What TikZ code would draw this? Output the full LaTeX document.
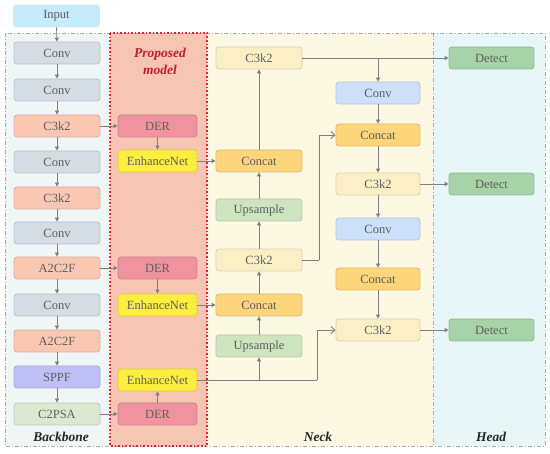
\documentclass[tikz,border=0pt]{standalone}
\usepackage{fontspec}
\setmainfont{Liberation Serif}
\usetikzlibrary{arrows.meta}
\definecolor{txtgray}{HTML}{5F5F5F}
\definecolor{lngray}{HTML}{7F7F7F}
\definecolor{bbfill}{HTML}{F0F5F6}
\definecolor{propfill}{HTML}{F6C5B3}
\definecolor{neckfill}{HTML}{FDF8E3}
\definecolor{headfill}{HTML}{E7F7F8}
\definecolor{cInput}{HTML}{C6EBFA}
\definecolor{cConv}{HTML}{D5DDE4}
\definecolor{cSalmon}{HTML}{FAC7B2}
\definecolor{cSPPF}{HTML}{BFC0F7}
\definecolor{cPSA}{HTML}{DCE8CF}
\definecolor{cDER}{HTML}{EF949F}
\definecolor{cEnh}{HTML}{FCEE3E}
\definecolor{cC3}{HTML}{FBF0C5}
\definecolor{cCat}{HTML}{FDD57A}
\definecolor{cUp}{HTML}{CDE5C0}
\definecolor{cNConv}{HTML}{CCE0FA}
\definecolor{cDet}{HTML}{A6D3A7}
\definecolor{redline}{HTML}{E8213A}
\definecolor{frame}{HTML}{A8A8A8}
\tikzset{
  blk/.style={rounded corners=3pt, minimum height=22pt, inner sep=0pt,
    font=\fontsize{12.5}{14}\selectfont, text=txtgray, line width=0.8pt},
  bx/.style={blk, fill=#1, draw=#1!88!black},
  bbw/.style={minimum width=86pt},
  prw/.style={minimum width=79pt},
  nkw/.style={minimum width=86pt},
  n2w/.style={minimum width=84pt},
  dtw/.style={minimum width=85pt},
  conn/.style={draw=lngray, line width=0.9pt, -{Triangle[length=4pt,width=4pt]}},
  openconn/.style={draw=lngray, line width=0.9pt, -{Straight Barb[length=4pt,width=7pt]}},
  plain/.style={draw=lngray, line width=0.9pt},
  lbl/.style={font=\fontsize{13.5}{15}\selectfont\bfseries\itshape, text=black!85},
  framedash/.style={draw=frame, line width=0.8pt, dash pattern=on 4pt off 2pt on 1pt off 2pt}
}
\begin{document}
\begin{tikzpicture}[x=1pt,y=-1pt]
\useasboundingbox (0,0) rectangle (550,454);
% panels
\fill[bbfill] (5,33) rectangle (110,446);
\fill[propfill] (110,33) rectangle (207,446);
\fill[neckfill] (207,33) rectangle (433,446);
\fill[headfill] (433,33) rectangle (545,446);
\draw[framedash] (5,33) rectangle (545,446);
\draw[framedash] (433,33) -- (433,446);
\draw[redline, line width=1.6pt, dotted] (110,33) rectangle (207,446);
% labels
\node[lbl] (lbb) at (61,437) {Backbone};
\node[lbl] (lnk) at (318,437) {Neck};
\node[lbl] (lhd) at (491,437) {Head};
\node[align=center, font=\fontsize{13.5}{17}\selectfont\bfseries\itshape, text=redline!85!black] (lprop) at (160,61) {Proposed\\model};
% backbone
\node[blk, fill=cInput, draw=cInput, bbw] (inp) at (56.5,16) {Input};
\node[bx=cConv, bbw] (b1) at (57,53) {Conv};
\node[bx=cConv, bbw] (b2) at (57,90) {Conv};
\node[bx=cSalmon, bbw] (b3) at (57,126) {C3k2};
\node[bx=cConv, bbw] (b4) at (57,162) {Conv};
\node[bx=cSalmon, bbw] (b5) at (57,198) {C3k2};
\node[bx=cConv, bbw] (b6) at (57,233) {Conv};
\node[bx=cSalmon, bbw] (b7) at (57,268) {A2C2F};
\node[bx=cConv, bbw] (b8) at (57,305) {Conv};
\node[bx=cSalmon, bbw] (b9) at (57,341) {A2C2F};
\node[bx=cSPPF, bbw] (b10) at (57,377) {SPPF};
\node[bx=cPSA, bbw] (b11) at (57,414) {C2PSA};
% proposed
\node[bx=cDER, prw] (d1) at (157.5,126) {DER};
\node[bx=cEnh, prw] (e1) at (157.5,161) {EnhanceNet};
\node[bx=cDER, prw] (d2) at (157.5,268) {DER};
\node[bx=cEnh, prw] (e2) at (157.5,305) {EnhanceNet};
\node[bx=cEnh, prw] (e3) at (157.5,380) {EnhanceNet};
\node[bx=cDER, prw] (d3) at (157.5,414) {DER};
% neck col 1
\node[bx=cC3, nkw] (n1) at (259,58) {C3k2};
\node[bx=cCat, nkw] (n2) at (259,161) {Concat};
\node[bx=cUp, nkw] (n3) at (259,210) {Upsample};
\node[bx=cC3, nkw] (n4) at (259,260) {C3k2};
\node[bx=cCat, nkw] (n5) at (259,305) {Concat};
\node[bx=cUp, nkw] (n6) at (259,346) {Upsample};
% neck col 2
\node[bx=cNConv, n2w] (m1) at (378,93) {Conv};
\node[bx=cCat, n2w] (m2) at (378,135) {Concat};
\node[bx=cC3, n2w] (m3) at (378,184) {C3k2};
\node[bx=cNConv, n2w] (m4) at (378,229) {Conv};
\node[bx=cCat, n2w] (m5) at (378,279) {Concat};
\node[bx=cC3, n2w] (m6) at (378,330) {C3k2};
% head
\node[bx=cDet, dtw] (h1) at (491.5,58) {Detect};
\node[bx=cDet, dtw] (h2) at (491.5,184) {Detect};
\node[bx=cDet, dtw] (h3) at (491.5,330) {Detect};
% backbone chain
\foreach \a/\b in {inp/b1,b1/b2,b2/b3,b3/b4,b4/b5,b5/b6,b6/b7,b7/b8,b8/b9,b9/b10,b10/b11}
  \draw[conn] (\a) -- (\b);
% backbone to proposed
\draw[conn] (b3) -- (d1);
\draw[conn] (d1) -- (e1);
\draw[conn] (e1) -- (n2);
\draw[conn] (b7) -- (d2);
\draw[conn] (d2) -- (e2);
\draw[conn] (e2) -- (n5);
\draw[conn] (b11) -- (d3);
\draw[conn] (d3) -- (e3);
% neck col1 upward
\coordinate (j1) at (259,380);
\coordinate (j2) at (317,380);
\draw[plain] (e3.east) -- (j2);
\draw[conn] (j1) -- (n6.south);
\draw[openconn] (j2) |- (m6.west);
\draw[conn] (n6) -- (n5);
\draw[conn] (n5) -- (n4);
\draw[conn] (n4) -- (n3);
\draw[conn] (n3) -- (n2);
\draw[conn] (n2) -- (n1);
\coordinate (j3) at (319,260);
\draw[plain] (n4.east) -- (j3);
\draw[openconn] (j3) |- (m2.west);
% top C3k2 to detect and col2
\draw[conn] (n1.east) -- (h1.west);
\draw[conn] (n1.east -| m1.north) -- (m1.north);
% col2 chain
\draw[conn] (m1) -- (m2);
\draw[conn] (m2) -- (m3);
\draw[conn] (m3) -- (m4);
\draw[conn] (m4) -- (m5);
\draw[conn] (m5) -- (m6);
\draw[conn] (m3) -- (h2);
\draw[conn] (m6) -- (h3);
\end{tikzpicture}
\end{document}
